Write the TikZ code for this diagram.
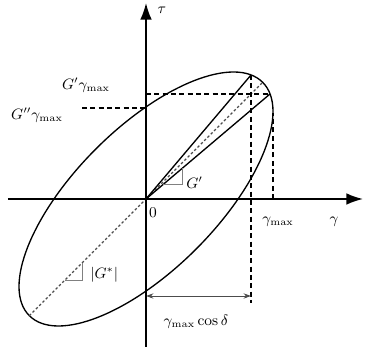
\documentclass[tikz,border=0pt]{standalone}
\usetikzlibrary{arrows.meta}
\begin{document}
\begin{tikzpicture}[x=0.6pt,y=0.6pt,
  axis/.style={line width=1pt,-{Latex[length=10pt,width=7pt]}},
  curve/.style={line width=0.8pt},
  dashline/.style={line width=0.95pt,dash pattern=on 3pt off 2pt},
  dotline/.style={line width=0.7pt,gray!60!black,dash pattern=on 1.5pt off 1.3pt},
  slopemark/.style={line width=0.55pt,gray},
  dimarrow/.style={line width=0.55pt,gray!60!black,{Stealth[length=4.5pt,width=3.2pt]}-{Stealth[length=4.5pt,width=3.2pt]}},
  lbl/.style={font=\fontsize{9}{10}\selectfont,inner sep=0pt}]
\useasboundingbox (-146,-148) rectangle (220,199);
% key points
\coordinate (O) at (0,0);
\coordinate (T) at (105,124);
\coordinate (R) at (124,105);
\coordinate (Xr) at (127,0);
\coordinate (Xrt) at (127,86);
\coordinate (Ya) at (0,91);
\coordinate (Gl) at (-64,91);
\coordinate (Yb) at (0,105);
\coordinate (Dtop) at (116.7,116.7);
\coordinate (Dbot) at (-116.7,-116.7);
\coordinate (Tb) at (105,-104);
\coordinate (A1) at (0,-97);
\coordinate (A2) at (105,-97);
\coordinate (XL) at (-138,0);
\coordinate (XR) at (217,0);
\coordinate (YB) at (0,-148);
\coordinate (YT) at (0,196);
% slope marks
\coordinate (s1) at (17,14.4);
\coordinate (s2) at (36,14.4);
\coordinate (s3) at (36,30.5);
\coordinate (g1) at (-81,-81);
\coordinate (g2) at (-64,-81);
\coordinate (g3) at (-64,-64);
% ellipse
\draw[curve,rotate=45] (O) ellipse [x radius=99pt, y radius=42.5pt];
% lines
\draw[dotline] (Dbot) -- (Dtop);
\draw[curve] (O) -- (T);
\draw[curve] (O) -- (R);
\draw[dashline] (Yb) -- (R);
\draw[dashline] (Gl) -- (Ya);
\draw[dashline] (Xr) -- (Xrt);
\draw[dashline] (T) -- (Tb);
\draw[slopemark] (s1) -- (s2) -- (s3);
\draw[slopemark] (g1) -- (g2) -- (g3);
\draw[dimarrow] (A1) -- (A2);
% axes
\draw[axis] (XL) -- (XR);
\draw[axis] (YB) -- (YT);
% labels
\node[lbl] (tau) at (16,189) {$\tau$};
\node[lbl] (gam) at (188,-23) {$\gamma$};
\node[lbl] (zero) at (7,-14) {$0$};
\node[lbl] (gmax) at (132,-23) {$\gamma_{\mathrm{max}}$};
\node[lbl] (Gp) at (-60,114) {$G'\gamma_{\mathrm{max}}$};
\node[lbl] (Gpp) at (-109,84) {$G''\gamma_{\mathrm{max}}$};
\node[lbl] (cosd) at (50,-123) {$\gamma_{\mathrm{max}}\cos\delta$};
\node[lbl,anchor=west] (Gpl) at (40,16) {$G'$};
\node[lbl,anchor=west] (Gsl) at (-56,-76) {$|G^*|$};
\end{tikzpicture}
\end{document}
